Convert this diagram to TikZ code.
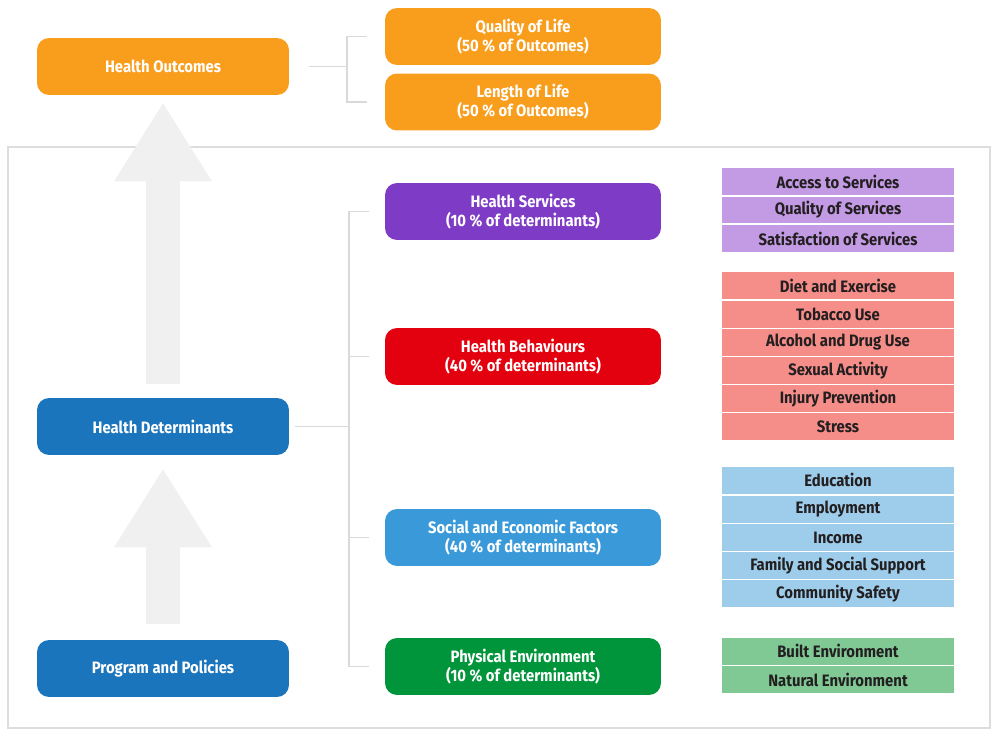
\documentclass[tikz,border=0pt]{standalone}
\usepackage{fontspec}
\setmainfont{Fira Sans}[FakeStretch=0.9]
\usetikzlibrary{arrows.meta}

\definecolor{outorange}{HTML}{F99D1C}
\definecolor{detblue}{HTML}{1B75BC}
\definecolor{servpurple}{HTML}{7E3BC6}
\definecolor{behred}{HTML}{E3000F}
\definecolor{socblue}{HTML}{3A9AD9}
\definecolor{envgreen}{HTML}{00953A}
\definecolor{servlight}{HTML}{C39AE4}
\definecolor{behlight}{HTML}{F58D89}
\definecolor{soclight}{HTML}{9DCDEB}
\definecolor{envlight}{HTML}{80C995}
\definecolor{textdark}{HTML}{231F20}
\definecolor{linegray}{HTML}{D9D9D9}
\definecolor{framegray}{HTML}{DDDDDD}
\definecolor{arrowgray}{HTML}{F0F0F0}

\begin{document}
\begin{tikzpicture}[x=0.02cm, y=-0.02cm,
  every node/.style={font=\fontsize{9.4}{10.8}\selectfont\bfseries, align=center, text=white, inner sep=0pt},
  bigbox/.style={rounded corners=0.24cm, minimum width=5.04cm, minimum height=1.14cm},
  midbox/.style={rounded corners=0.24cm, minimum width=5.52cm, minimum height=1.14cm},
  rowbox/.style={minimum width=4.64cm, minimum height=0.54cm, text=textdark},
  branch/.style={draw=linegray, line width=1.1pt},
  bigarrow/.style={draw=arrowgray, line width=0.68cm, xshift=-0.06cm, -{Triangle[width=1.96cm, length=1.56cm, line width=0pt]}}
]
\useasboundingbox (0,0) rectangle (1001,740);
\draw[framegray, line width=0.85pt] (8,147) rectangle (990,728);

\node[bigbox, fill=outorange] (ho) at (163,66.5) {Health Outcomes};
\node[bigbox, fill=detblue] (hd) at (163,426.5) {Health Determinants};
\node[bigbox, fill=detblue] (pp) at (163,668.5) {Program and Policies};

\node[midbox, fill=outorange] (ql) at (523,36.5) {Quality of Life\\(50 \% of Outcomes)};
\node[midbox, fill=outorange] (ll) at (523,102) {Length of Life\\(50 \% of Outcomes)};
\node[midbox, fill=servpurple] (hs) at (523,211.5) {Health Services\\(10 \% of determinants)};
\node[midbox, fill=behred] (hb) at (523,356.5) {Health Behaviours\\(40 \% of determinants)};
\node[midbox, fill=socblue] (se) at (523,537.5) {Social and Economic Factors\\(40 \% of determinants)};
\node[midbox, fill=envgreen] (pe) at (523,666.5) {Physical Environment\\(10 \% of determinants)};

\foreach \y/\t [count=\i] in {181.5/Access to Services, 210/Quality of Services, 238.5/Satisfaction of Services}
  \node[rowbox, fill=servlight] (hs\i) at (838,\y) {\t};
\foreach \y/\t [count=\i] in {285.5/Diet and Exercise, 314.5/Tobacco Use, 342.5/Alcohol and Drug Use, 370.5/Sexual Activity, 398.5/Injury Prevention, 426.5/Stress}
  \node[rowbox, fill=behlight] (hb\i) at (838,\y) {\t};
\foreach \y/\t [count=\i] in {480/Education, 509/Employment, 537.5/Income, 565.5/Family and Social Support, 593.5/Community Safety}
  \node[rowbox, fill=soclight] (se\i) at (838,\y) {\t};
\foreach \y/\t [count=\i] in {651/Built Environment, 679.5/Natural Environment}
  \node[rowbox, fill=envlight] (pe\i) at (838,\y) {\t};

% brackets
\coordinate (ob) at (347,66.5);
\coordinate (db) at (349,426.5);
\draw[branch, shorten <=0.4cm] (ho.east) -- (ob);
\draw[branch, shorten >=0.36cm] (ob) |- (ql.west);
\draw[branch, shorten >=0.36cm] (ob) |- (ll.west);
\draw[branch, shorten <=0.12cm] (hd.east) -- (db);
\foreach \n in {hs,hb,se,pe}
  \draw[branch, shorten >=0.32cm] (db) |- (\n.west);

% block arrows
\draw[bigarrow, shorten <=0.28cm, shorten >=0.16cm] (hd.north) -- (ho.south);
\draw[bigarrow, shorten <=0.32cm, shorten >=0.28cm] (pp.north) -- (hd.south);
\end{tikzpicture}
\end{document}
